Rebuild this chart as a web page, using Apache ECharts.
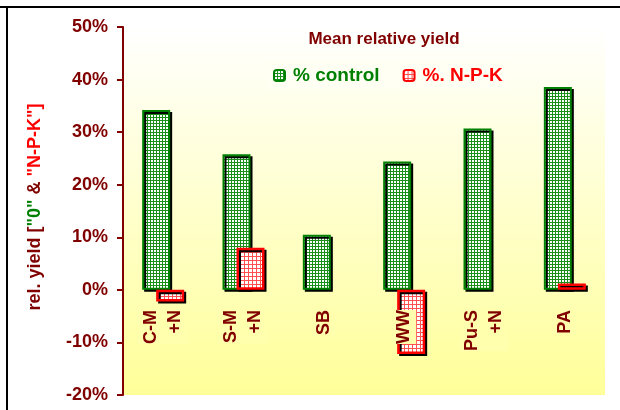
<!DOCTYPE html>
<html>
<head>
<meta charset="utf-8">
<script src="https://cdn.jsdelivr.net/npm/echarts@6/dist/echarts.min.js"></script>
<style>
  html, body { margin: 0; padding: 0; background: #fff; }
  #chart { width: 620px; height: 410px; }
</style>
</head>
<body>
<div id="chart"></div>
<script>
// data
const categories = ['C-M\n+N', 'S-M\n+N', 'SB', 'WW', 'Pu-S\n+N', 'PA']
const controlValues = [34.2, 25.8, 10.5, 24.4, 30.7, 38.6]
const npkValues = [-2.2, 8, null, -12.2, null, 1.2]
const yTicks = { min: -20, max: 50, interval: 10 }

const DARK_RED = '#800000'
const GREEN = '#008000'
const RED = '#ff0000'

// small grid pattern used to fill the bars
const makePattern = (lineColor, cell) => {
  const c = document.createElement('canvas')
  c.width = cell
  c.height = cell
  const ctx = c.getContext('2d')
  ctx.fillStyle = '#ffffff'
  ctx.fillRect(0, 0, cell, cell)
  ctx.fillStyle = lineColor
  ctx.fillRect(0, 0, cell, 1)
  ctx.fillRect(0, 0, 1, cell)
  return c
}

const greenFill = { image: makePattern('#1a8f1a', 3), repeat: 'repeat' }
const redFill = { image: makePattern('#ff5050', 4), repeat: 'repeat' }

const chart = echarts.init(document.getElementById('chart'))

const option = {
  animation: false,
  backgroundColor: '#ffffff',
  textStyle: { fontFamily: 'Liberation Sans, Arial, sans-serif' },
  title: {
    text: 'Mean relative yield',
    left: 379,
    textAlign: 'center',
    top: 26,
    textStyle: { color: DARK_RED, fontSize: 17, fontWeight: 'bold' }
  },
  legend: {
    left: 267,
    top: 62,
    itemWidth: 11,
    itemHeight: 11,
    itemGap: 23,
    padding: [4, 6],
    backgroundColor: '#fffff4',
    textStyle: { fontSize: 19, fontWeight: 'bold', padding: [0, 0, 0, 3] },
    data: [
      { name: '% control', textStyle: { color: GREEN } },
      { name: '%. N-P-K', textStyle: { color: RED } }
    ]
  },
  grid: {
    left: 123,
    right: 15,
    top: 27,
    bottom: 15,
    outerBoundsMode: 'none',
    containLabel: false,
    show: true,
    borderWidth: 0,
    backgroundColor: new echarts.graphic.LinearGradient(0, 0, 0, 1, [
      { offset: 0, color: '#ffffff' },
      { offset: 1, color: '#ffff99' }
    ])
  },
  xAxis: {
    type: 'category',
    data: categories,
    z: 5,
    // labels sit under the zero line, not at the grid bottom
    offset: -105,
    axisLine: { show: false, onZero: false },
    axisTick: { show: false },
    axisLabel: {
      rotate: 90,
      margin: 20,
      color: DARK_RED,
      fontSize: 18,
      fontWeight: 'bold',
      lineHeight: 24,
      backgroundColor: '#ffffae'
    }
  },
  yAxis: {
    type: 'value',
    min: yTicks.min,
    max: yTicks.max,
    interval: yTicks.interval,
    splitLine: { show: false },
    axisLine: { show: true, lineStyle: { color: DARK_RED, width: 2 } },
    axisTick: { show: true, length: 6, lineStyle: { color: DARK_RED, width: 2 } },
    axisLabel: {
      formatter: '{value}%',
      color: DARK_RED,
      fontSize: 18,
      fontWeight: 'bold',
      margin: 15
    }
  },
  series: [
    {
      name: '% control',
      type: 'bar',
      data: controlValues,
      barWidth: 28,
      barGap: '-50%',
      itemStyle: {
        color: greenFill,
        borderColor: GREEN,
        borderWidth: 2,
        shadowColor: '#000000',
        shadowOffsetX: 2,
        shadowOffsetY: 2,
        shadowBlur: 0
      }
    },
    {
      name: '%. N-P-K',
      type: 'bar',
      data: npkValues,
      barWidth: 28,
      itemStyle: {
        color: redFill,
        borderColor: RED,
        borderWidth: 2.5,
        shadowColor: '#000000',
        shadowOffsetX: 2,
        shadowOffsetY: 2,
        shadowBlur: 0
      }
    }
  ],
  graphic: [
    // outer frame lines
    { type: 'line', shape: { x1: 0, y1: 7, x2: 620, y2: 7 }, style: { stroke: '#000', lineWidth: 2 } },
    { type: 'line', shape: { x1: 7, y1: 7, x2: 7, y2: 410 }, style: { stroke: '#000', lineWidth: 2 } },
    // y axis title in three colours
    {
      type: 'text',
      x: 35,
      y: 207,
      rotation: Math.PI / 2,
      style: {
        text: '{a|rel. yield [}{b|"0"}{a| & }{c|"N-P-K"]}',
        align: 'center',
        verticalAlign: 'middle',
        rich: {
          a: { fill: DARK_RED, fontSize: 18, fontWeight: 'bold', fontFamily: 'Liberation Sans' },
          b: { fill: GREEN, fontSize: 18, fontWeight: 'bold', fontFamily: 'Liberation Sans' },
          c: { fill: RED, fontSize: 18, fontWeight: 'bold', fontFamily: 'Liberation Sans' }
        }
      }
    }
  ]
}

chart.setOption(option)
</script>
</body>
</html>
